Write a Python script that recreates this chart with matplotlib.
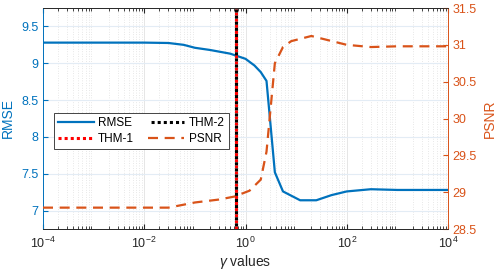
import matplotlib
matplotlib.use("Agg")
import matplotlib.pyplot as plt
from matplotlib.ticker import LogLocator, NullFormatter, FixedLocator
import numpy as np

plt.rcParams['font.family'] = ['Liberation Sans', 'DejaVu Sans']
plt.rcParams['mathtext.fontset'] = 'custom'
plt.rcParams['mathtext.rm'] = 'Liberation Sans'
plt.rcParams['mathtext.it'] = 'Liberation Sans:italic'

gamma_rmse = [1e-4, 1e-3, 1e-2, 0.03, 0.06, 0.1, 0.2, 0.5, 1.0, 1.5, 2.0, 2.6,
              3.8, 5.5, 12, 25, 50, 100, 300, 1000, 1e4]
rmse = [9.28, 9.28, 9.28, 9.275, 9.25, 9.21, 9.18, 9.13, 9.06, 8.97, 8.88, 8.76,
        7.52, 7.26, 7.14, 7.14, 7.21, 7.26, 7.29, 7.28, 7.28]

gamma_psnr = [1e-4, 1e-3, 1e-2, 0.03, 0.06, 0.1, 0.3, 0.6, 1.2, 2.0, 2.6,
              3.8, 5.5, 8, 20, 100, 300, 1000, 1e4]
psnr = [28.79, 28.79, 28.79, 28.79, 28.83, 28.86, 28.90, 28.94, 29.02, 29.17, 29.55,
        30.75, 30.97, 31.05, 31.12, 31.00, 30.97, 30.98, 30.98]

thm_x = 0.65
xticks = [1e-4, 1e-2, 1, 1e2, 1e4]
left_ticks = [7, 7.5, 8, 8.5, 9, 9.5]
right_ticks = [28.5, 29, 29.5, 30, 30.5, 31, 31.5]

blue = '#0072BD'
orange = '#D95319'
dark = '#262626'

fig = plt.figure(figsize=(4.98, 2.74), dpi=100)
ax = fig.add_axes([43/498, 1-229/274, (448-43)/498, (229-8)/274])
ax2 = ax.twinx()

ax.set_xscale('log')
ax.set_xlim(1e-4, 1e4)
ax.set_ylim(6.75, 9.75)
ax2.set_ylim(28.5, 31.5)

ax.xaxis.set_major_locator(FixedLocator(xticks))
ax.xaxis.set_minor_locator(LogLocator(base=10, subs=np.arange(2, 10), numticks=100))
ax.xaxis.set_minor_formatter(NullFormatter())
ax.set_xticklabels([r'$10^{-4}$', r'$10^{-2}$', r'$10^{0}$', r'$10^{2}$', r'$10^{4}$'])
ax.set_yticks(left_ticks)
ax.set_yticklabels(['7', '7.5', '8', '8.5', '9', '9.5'])
ax2.set_yticks(right_ticks)
ax2.set_yticklabels(['28.5', '29', '29.5', '30', '30.5', '31', '31.5'])

ax.grid(True, which='major', axis='x', color='#e2e2e2', lw=0.6)
ax.grid(True, which='minor', axis='x', color='#d2d2d2', lw=0.5, ls=(0, (1, 2.5)))
ax.grid(True, which='major', axis='y', color='#e3ecf5', lw=0.8)
ax.set_axisbelow(True)

h1, = ax.plot(gamma_rmse, rmse, color=blue, lw=1.6, label='RMSE', zorder=3)
h2 = ax.axvline(thm_x, color='#FF0000', lw=2.2, ls=(0, (1, 1)), label='THM-1', zorder=4)
h3 = ax.axvline(thm_x, color='black', lw=2.2, ls=(1, (1, 1)), label='THM-2', zorder=4)
h4, = ax2.plot(gamma_psnr, psnr, color=orange, lw=1.6, ls=(0, (4.5, 3)), label='PSNR', zorder=3)

ax.tick_params(axis='x', which='both', direction='in', top=True, colors=dark, labelsize=9, pad=5)
ax.tick_params(axis='x', which='major', length=3.5)
ax.tick_params(axis='x', which='minor', length=2)
ax.tick_params(axis='y', direction='in', colors=blue, labelsize=9, length=3.5, pad=3)
ax2.tick_params(axis='y', direction='in', colors=orange, labelsize=9, length=3.5, pad=3)
for a in (ax, ax2):
    a.spines['left'].set_color(blue)
    a.spines['right'].set_color(orange)
    a.spines['top'].set_color(dark)
    a.spines['bottom'].set_color(dark)
    for s in a.spines.values():
        s.set_linewidth(0.6)

ax.set_xlabel(r'$\gamma$ values', fontsize=10, color=dark, labelpad=1)
ax.set_ylabel('RMSE', fontsize=10, color=blue, labelpad=5)
ax2.set_ylabel('PSNR', fontsize=10, color=orange, labelpad=5)

leg = ax2.legend([h1, h2, h3, h4], ['RMSE', 'THM-1', 'THM-2', 'PSNR'], ncol=2,
                 loc='upper left', bbox_to_anchor=((54-43)/405, (229-113)/221),
                 fontsize=8.5, frameon=True, fancybox=False, framealpha=1,
                 edgecolor=dark, handlelength=3.0, columnspacing=1.2,
                 handletextpad=0.4, borderpad=0.35, labelspacing=0.3, borderaxespad=0)
leg.get_frame().set_linewidth(0.6)

fig.savefig('out.png', dpi=100)
